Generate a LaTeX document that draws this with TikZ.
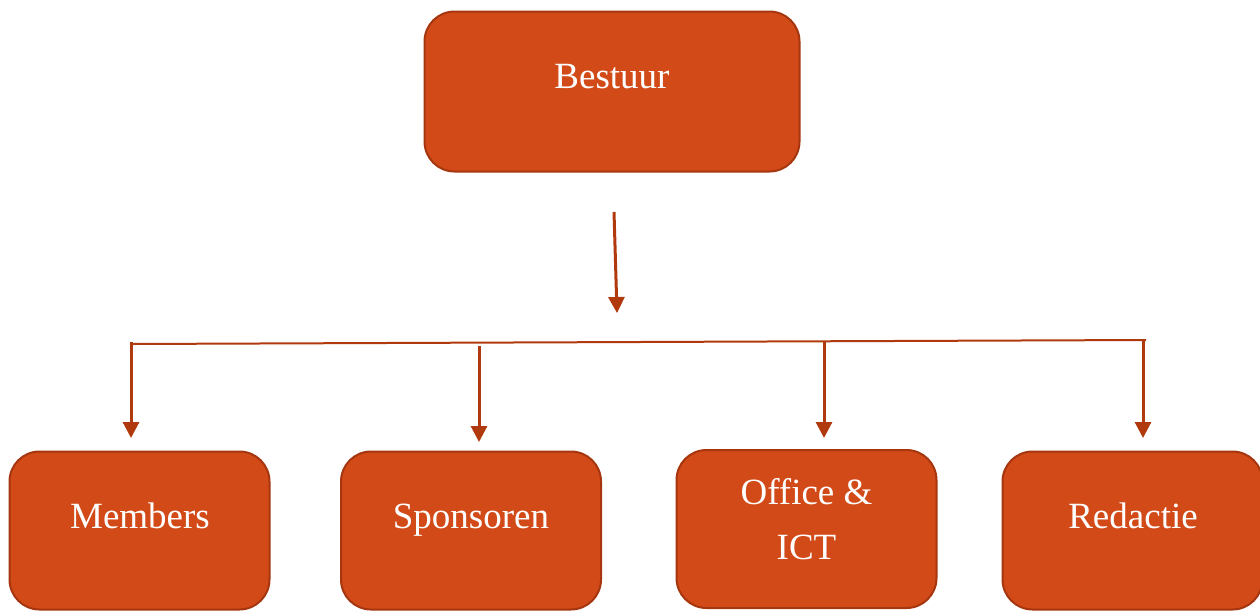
\documentclass[tikz,border=0pt]{standalone}
\usepackage{fontspec}
\setmainfont{Liberation Serif}
\usetikzlibrary{arrows.meta}
\definecolor{boxfill}{HTML}{D24A17}
\definecolor{boxline}{HTML}{A5360F}
\definecolor{arrowcol}{HTML}{B03A0E}
\tikzset{
  orgbox/.style={draw=boxline, line width=2pt, fill=boxfill, rounded corners=30pt, inner sep=0pt},
  txt/.style={text=white, font=\fontsize{37}{55}\selectfont, align=center, inner sep=0pt},
  conn/.style={draw=arrowcol, line width=3pt, -{Triangle[width=16pt,length=16pt]}},
  bar/.style={draw=arrowcol, line width=2pt}
}
\begin{document}
\begin{tikzpicture}[x=1pt,y=-1pt]
\useasboundingbox (0,0) rectangle (1260,611);
\node[orgbox, minimum width=375pt, minimum height=160pt] (bestuur) at (612,91.5) {};
\node[txt, anchor=base] (tbestuur) at (612,88) {Bestuur};
\node[orgbox, minimum width=260pt, minimum height=158pt] (members) at (139.5,530.5) {};
\node[txt, anchor=base] (tmembers) at (140,528) {Members};
\node[orgbox, minimum width=260pt, minimum height=158pt] (sponsoren) at (471,530.5) {};
\node[txt, anchor=base] (tsponsoren) at (471,528) {Sponsoren};
\node[orgbox, minimum width=260pt, minimum height=158pt] (office) at (806.5,529) {};
\node[txt] (toffice) at (806.5,519) {Office \&\\ICT};
\node[orgbox, minimum width=260pt, minimum height=158pt] (redactie) at (1132.5,530.5) {};
\node[txt, anchor=base] (tredactie) at (1133,528) {Redactie};
\coordinate (a0) at (614,212);
\coordinate (a1) at (617,313);
\coordinate (hl) at (131,344);
\coordinate (hr) at (1146,340);
\coordinate (m0) at (131,342);
\coordinate (m1) at (131,438);
\coordinate (s0) at (479,346);
\coordinate (s1) at (479,442);
\coordinate (o0) at (824,342);
\coordinate (o1) at (824,438);
\coordinate (r0) at (1143,340);
\coordinate (r1) at (1143,438);
\draw[conn] (a0) -- (a1);
\draw[bar] (hl) -- (hr);
\draw[conn] (m0) -- (m1);
\draw[conn] (s0) -- (s1);
\draw[conn] (o0) -- (o1);
\draw[conn] (r0) -- (r1);
\end{tikzpicture}
\end{document}
